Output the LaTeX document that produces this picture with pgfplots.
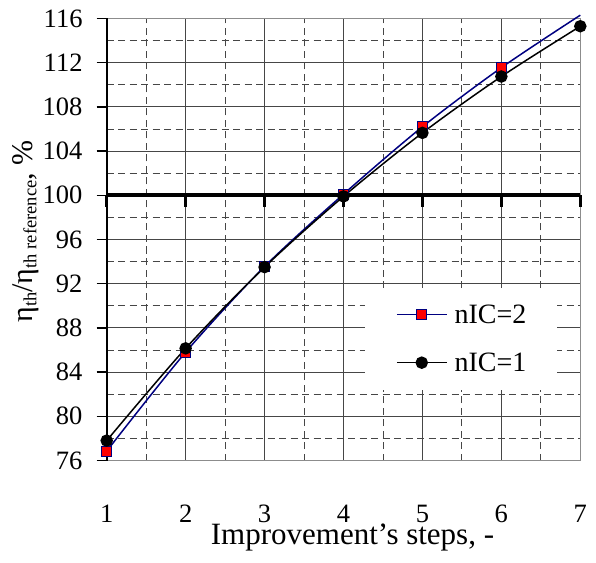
\documentclass[border=0pt]{standalone}
\usepackage{fontspec}
\setmainfont{Liberation Serif}
\usepackage{pgfplots}
\pgfplotsset{compat=1.18}
\definecolor{navy}{RGB}{0,0,128}
\definecolor{gridc}{RGB}{70,70,70}
\definecolor{framec}{RGB}{140,140,140}
\newcommand{\sub}[1]{\raisebox{-4pt}{\fontsize{18.5}{20}\selectfont #1}}
\begin{document}
\begin{tikzpicture}[x=1pt,y=1pt]
\path[use as bounding box] (-106.7,-101.5) rectangle (489.3,460.5);
\begin{axis}[
  at={(0pt,0pt)}, anchor=south west,
  scale only axis, width=473.6pt, height=442pt,
  xmin=1, xmax=7, ymin=76, ymax=116,
  xtick={1,...,7}, ytick={76,80,...,116},
  minor x tick num=1, minor y tick num=1,
  xmajorgrids, ymajorgrids, xminorgrids, yminorgrids,
  major grid style={gridc, line width=0.9pt},
  minor grid style={gridc, line width=0.9pt, dash pattern=on 7pt off 4.5pt},
  axis line style={draw=framec, line width=1.5pt},
  ytick pos=left, tick align=outside,
  major tick length=10pt, minor tick length=0pt,
  tick style={black, line width=1.5pt},
  xtick style={draw=none},
  /pgf/number format/assume math mode=true,
  tick label style={font=\fontsize{26.5}{30}\selectfont},
  xticklabel style={anchor=base, inner sep=0pt, yshift=-52pt},
  yticklabel style={anchor=east, inner ysep=0pt, inner xsep=14pt},
  xlabel={Improvement’s steps, -},
  xlabel style={font=\fontsize{31}{36}\selectfont, inner sep=0pt, at={(rel axis cs:0.519,-0.191)}, anchor=base},
  ylabel={η\sub{th}/η\sub{th reference}, \%},
  ylabel style={font=\fontsize{30}{34}\selectfont, inner sep=0pt, at={(rel axis cs:-0.171,0.518)}, anchor=center},
  clip=false,
  legend image code/.code={\draw[mark repeat=2,mark phase=2,#1] plot coordinates {(0pt,0pt) (25pt,0pt) (50pt,0pt)};},
  legend style={at={(0.545,0.3916)}, anchor=north west, draw=none, fill=white,
    font=\fontsize{28}{32}\selectfont, inner xsep=31pt, inner ysep=17pt,
    nodes={inner sep=0pt}, column sep=7pt, row sep=28pt},
  legend cell align=left,
]
% bold reference line at 100
\addplot[forget plot, black, line width=4pt] coordinates {(1,100) (7,100)};
\pgfplotsinvokeforeach{1,...,7}{\draw[black, line width=3pt] (axis cs:#1,100) -- ++(0pt,-12pt);}
\draw[black, line width=2pt] (rel axis cs:0,0) -- (rel axis cs:0,1);
% nIC=2
\addplot[forget plot, navy, line width=1.5pt, smooth] coordinates {
  (1,76.85) (2,85.8) (3,93.55) (4,100.1) (5,106.2) (6,111.55) (7,116.3)};
\addplot[forget plot, only marks, mark=square*, mark size=5pt,
  mark options={fill=red, draw=navy, line width=1.2pt}] coordinates {
  (1,76.85) (2,85.8) (3,93.55) (4,100.1) (5,106.2) (6,111.55)};
% nIC=1
\addplot[forget plot, black, line width=1.5pt, smooth, mark=*, mark size=5.5pt] coordinates {
  (1,77.8) (2,86.15) (3,93.5) (4,99.9) (5,105.65) (6,110.75) (7,115.3)};
\addlegendimage{navy, line width=1.5pt, mark=square*, mark size=5pt, mark options={fill=red, draw=navy, line width=1.2pt}}
\addlegendentry{nIC=2}
\addlegendimage{black, line width=1.5pt, mark=*, mark size=5.5pt}
\addlegendentry{nIC=1}
\end{axis}
\end{tikzpicture}
\end{document}
